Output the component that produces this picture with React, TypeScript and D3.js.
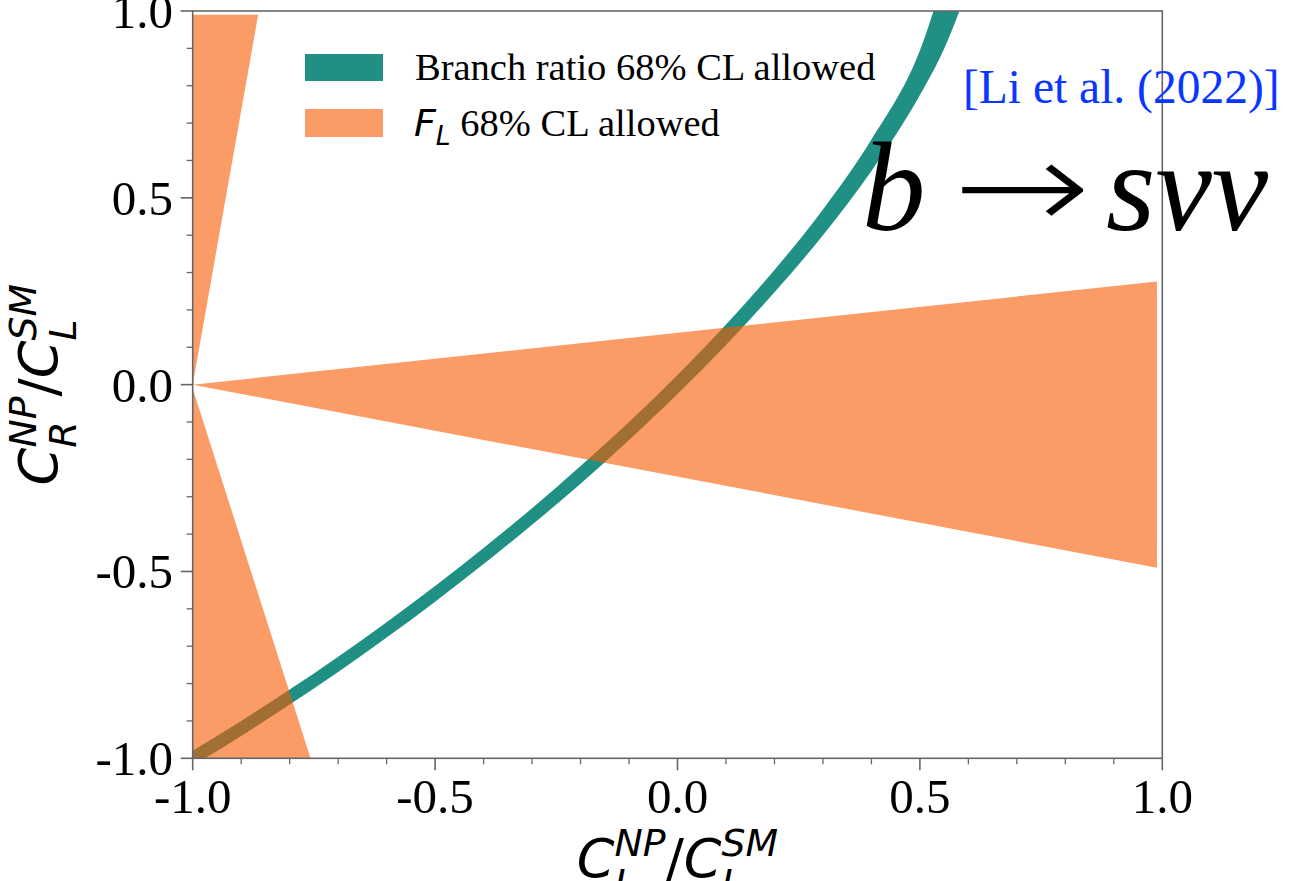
import * as d3 from "d3";

// x grid of the branch-ratio band (C_L^NP / C_L^SM)
const brX = [-1.0, -0.9, -0.8, -0.7, -0.6, -0.5, -0.4, -0.3, -0.2, -0.1, 0.0, 0.1, 0.2, 0.3, 0.4, 0.5, 0.55, 0.6];
// upper-left and lower-right edges of the band (C_R^NP / C_L^SM)
const brUpper = [-0.98, -0.9, -0.816, -0.728, -0.636, -0.539, -0.437, -0.331, -0.218, -0.1, 0.026, 0.161, 0.307, 0.469, 0.656, 0.894, 1.084, 1.25];
const brLower = [-1.02, -0.94, -0.856, -0.769, -0.677, -0.581, -0.48, -0.375, -0.265, -0.148, -0.025, 0.106, 0.247, 0.4, 0.572, 0.775, 0.899, 1.064];

// F_L allowed wedges, all opening from (-1, 0)
const flTop: [number, number][] = [[-1, 0], [-1, 0.99], [-0.865, 0.99]];
const flRight: [number, number][] = [[-1, 0], [0.989, 0.276], [0.989, -0.49]];
const flBottom: [number, number][] = [[-1, -0.01], [-1, -1], [-0.757, -1]];

const majorTicks = [-1.0, -0.5, 0.0, 0.5, 1.0];
const tickLabels = ["-1.0", "-0.5", "0.0", "0.5", "1.0"];

const W = 1313;
const H = 881;
const left = 192.7;
const right = 1162.3;
const top = 11;
const bottom = 758.3;

const TEAL = "#1f9083";
const ORANGE = "#f85800";
const AXIS = "#666";
const SERIF = "Liberation Serif, Times New Roman, serif";
const SANS = "DejaVu Sans, sans-serif";

export default function App() {
  const x = d3.scaleLinear().domain([-1, 1]).range([left, right]);
  const y = d3.scaleLinear().domain([-1, 1]).range([bottom, top]);

  const minorTicks = d3.range(-10, 11).map((i) => i / 10).filter((v) => Math.abs(v * 2 - Math.round(v * 2)) > 1e-6);

  const band = d3
    .area<number>()
    .x((_, i) => x(brX[i]))
    .y0((_, i) => y(brLower[i]))
    .y1((_, i) => y(brUpper[i]))
    .curve(d3.curveMonotoneX);

  const poly = d3.line<[number, number]>().x((d) => x(d[0])).y((d) => y(d[1]));

  const sub = 37.8;

  return (
    <svg width={W} height={H} style={{ position: "absolute", left: 0, top: 0, background: "#fff" }}>
      <defs>
        <clipPath id="plot">
          <rect x={left} y={top} width={right - left} height={bottom - top} />
        </clipPath>
      </defs>

      <g clipPath="url(#plot)">
        <path d={band(brX) ?? ""} fill={TEAL} />
        {[flTop, flRight, flBottom].map((p, i) => (
          <path key={i} d={(poly(p) ?? "") + "Z"} fill={ORANGE} fillOpacity={0.6} />
        ))}
      </g>

      {/* frame */}
      <rect x={left} y={top} width={right - left} height={bottom - top} fill="none" stroke={AXIS} strokeWidth={1.6} />

      {/* x ticks */}
      {majorTicks.map((t, i) => (
        <g key={"xt" + i}>
          <line x1={x(t)} x2={x(t)} y1={bottom} y2={bottom + 12} stroke={AXIS} strokeWidth={1.6} />
          <text x={x(t)} y={813} textAnchor="middle" fontFamily={SERIF} fontSize={49}>
            {tickLabels[i]}
          </text>
        </g>
      ))}
      {minorTicks.map((t, i) => (
        <line key={"xm" + i} x1={x(t)} x2={x(t)} y1={bottom} y2={bottom + 6} stroke={AXIS} strokeWidth={1.3} />
      ))}

      {/* y ticks */}
      {majorTicks.map((t, i) => (
        <g key={"yt" + i}>
          <line x1={left - 12} x2={left} y1={y(t)} y2={y(t)} stroke={AXIS} strokeWidth={1.6} />
          <text x={173} y={y(t) + 17} textAnchor="end" fontFamily={SERIF} fontSize={49}>
            {tickLabels[i]}
          </text>
        </g>
      ))}
      {minorTicks.map((t, i) => (
        <line key={"ym" + i} x1={left - 6} x2={left} y1={y(t)} y2={y(t)} stroke={AXIS} strokeWidth={1.3} />
      ))}

      {/* x label */}
      <text x={(left + right) / 2} y={877} textAnchor="middle" fontFamily={SANS} fontStyle="italic" fontSize={54}>
        <tspan>C</tspan>
        <tspan fontSize={sub} dy={19}>L</tspan>
        <tspan fontSize={sub} dx={-21} dy={-40}>NP</tspan>
        <tspan fontStyle="normal" dy={21}>/</tspan>
        <tspan>C</tspan>
        <tspan fontSize={sub} dy={19}>L</tspan>
        <tspan fontSize={sub} dx={-21} dy={-40}>SM</tspan>
      </text>

      {/* y label */}
      <text
        transform={`translate(57,${(top + bottom) / 2}) rotate(-90)`}
        textAnchor="middle"
        fontFamily={SANS}
        fontStyle="italic"
        fontSize={54}
      >
        <tspan>C</tspan>
        <tspan fontSize={sub} dy={19}>R</tspan>
        <tspan fontSize={sub} dx={-26} dy={-40}>NP</tspan>
        <tspan fontStyle="normal" dy={21}>/</tspan>
        <tspan>C</tspan>
        <tspan fontSize={sub} dy={19}>L</tspan>
        <tspan fontSize={sub} dx={-21} dy={-40}>SM</tspan>
      </text>

      {/* legend */}
      <rect x={305} y={54} width={78} height={27} fill={TEAL} />
      <text x={415} y={80} fontFamily={SERIF} fontSize={38.5}>
        Branch ratio 68% CL allowed
      </text>
      <rect x={305} y={109} width={78} height={28} fill={ORANGE} fillOpacity={0.6} />
      <text x={414} y={136} fontSize={38.5} style={{ whiteSpace: "pre" }}>
        <tspan fontFamily={SANS} fontStyle="italic" fontSize={38}>F</tspan>
        <tspan fontFamily={SANS} fontStyle="italic" fontSize={26.6} dy={9}>L</tspan>
        <tspan fontFamily={SERIF} dy={-9}>{" 68% CL allowed"}</tspan>
      </text>

      {/* annotations */}
      <text x={963} y={103} fontFamily={SERIF} fontSize={47.5} fill="#0a37ff">
        [Li et al. (2022)]
      </text>
      <text y={230} fontFamily={SERIF} fontSize={127}>
        <tspan x={862} fontStyle="italic">b</tspan>
        <tspan x={1106} fontStyle="italic">sνν</tspan>
      </text>
      <text transform="translate(953,230) scale(1.3,1)" fontFamily={SANS} fontSize={127} fontWeight={300}>
        →
      </text>
    </svg>
  );
}
